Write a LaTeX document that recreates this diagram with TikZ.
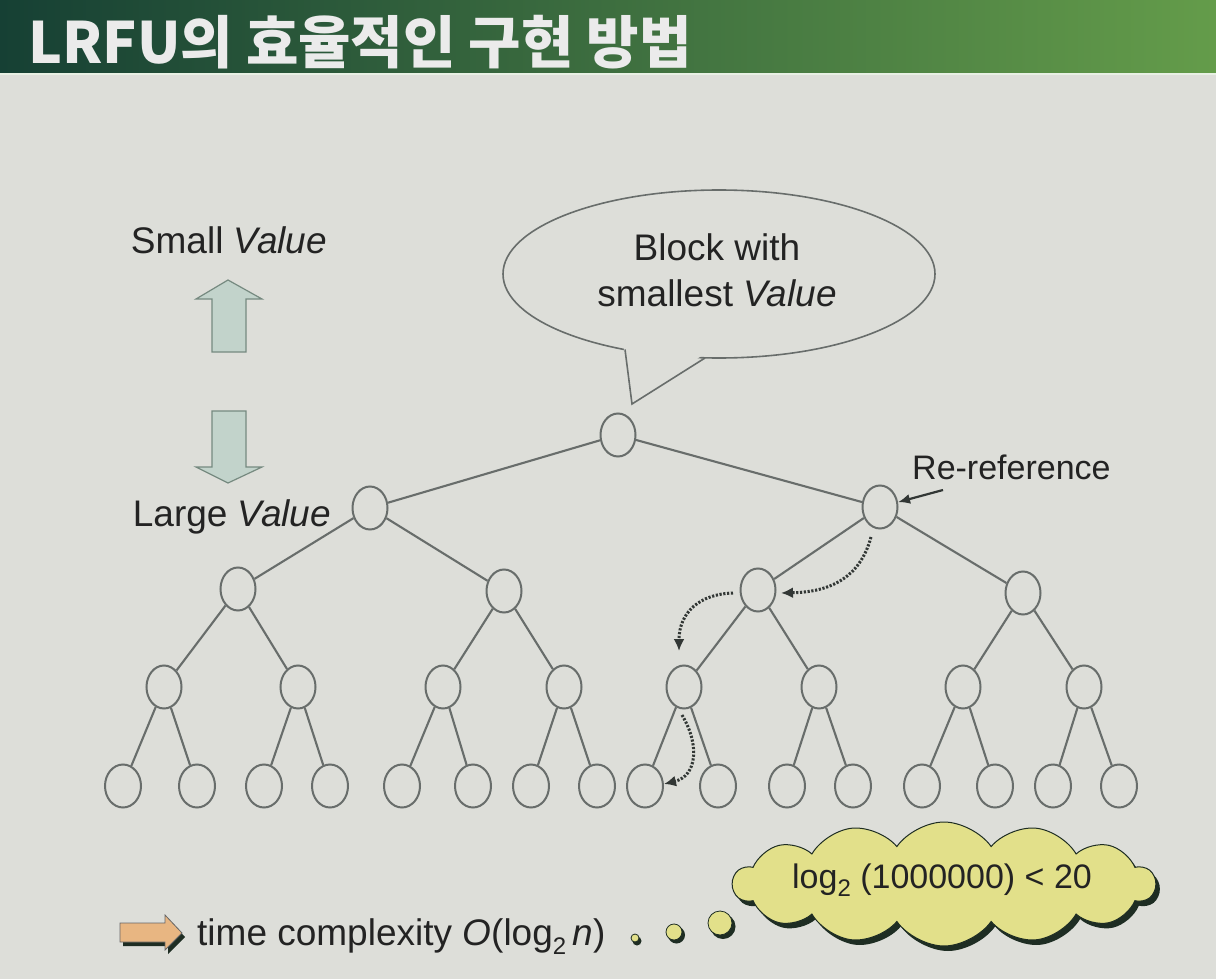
\documentclass[tikz,border=0pt]{standalone}
\usepackage{fontspec}
\setmainfont{Liberation Sans}
\newfontfamily\krfont{Noto Sans CJK KR}
\usetikzlibrary{shapes.geometric,shapes.symbols,arrows.meta}
\definecolor{bg}{RGB}{221,222,217}
\definecolor{titleL}{RGB}{22,64,52}
\definecolor{titleR}{RGB}{100,156,74}
\definecolor{edgec}{RGB}{104,109,107}
\definecolor{txt}{RGB}{35,35,35}
\definecolor{arrfill}{RGB}{194,211,203}
\definecolor{arrdraw}{RGB}{118,138,128}
\definecolor{orangec}{RGB}{232,182,130}
\definecolor{yellowc}{RGB}{226,224,138}
\definecolor{shadowc}{RGB}{30,45,35}
\definecolor{dotc}{RGB}{50,55,53}
\newcommand\mysub[1]{\raisebox{-0.25em}{\fontsize{24}{24}\selectfont #1}}
\begin{document}
\begin{tikzpicture}[x=1pt,y=-1pt,
  tnode/.style={ellipse,draw=edgec,line width=2pt,minimum width=35pt,minimum height=43pt,inner sep=0pt},
  tedge/.style={draw=edgec,line width=2.1pt},
  lbl/.style={text=txt,font=\fontsize{37}{46}\selectfont,inner sep=0pt},
  dotarrow/.style={draw=dotc,line width=3pt,dash pattern=on 2.2pt off 1.6pt,-{Latex[length=12pt,width=11pt]}},
  blockarr/.style={fill=arrfill,draw=arrdraw,line width=1.2pt},
  cloudshape/.style={cloud,cloud puffs=14,cloud puff arc=110,aspect=3.4,minimum width=422pt,minimum height=124pt,inner sep=0pt}
]
\useasboundingbox (0,0) rectangle (1216,979);
\fill[bg] (0,0) rectangle (1216,979);
% title bar
\shade[left color=titleL,right color=titleR] (0,0) rectangle (1216,73);
\fill[white!85!titleR] (0,73) rectangle (1216,75);
\node[anchor=base west,text=white!92!black,inner sep=0pt,font=\krfont\bfseries\fontsize{57}{57}\selectfont] (title) at (28,64) {LRFU의 효율적인 구현 방법};

% left labels and block arrows
\node[lbl] (small) at (229,240) {Small \textit{Value}};
\node[lbl] (large) at (232,517) {Large \textit{Value}};
\draw[blockarr] (228,280) -- (262,299) -- (246,299) -- (246,352) -- (212,352) -- (212,299) -- (196,299) -- cycle;
\draw[blockarr] (212,411) -- (246,411) -- (246,467) -- (262,467) -- (228,483) -- (196,467) -- (212,467) -- cycle;

% speech bubble
\node[ellipse,draw=edgec,line width=1.6pt,minimum width=432pt,minimum height=168pt,inner sep=0pt] (bubble) at (719,274) {};
\fill[bg] (623,343) -- (632,404) -- (707,352) -- cycle;
\draw[edgec,line width=1.6pt] (625,349.5) -- (632,404) -- (705,358);
\node[lbl,align=center] (btext) at (717,270) {Block with\\smallest \textit{Value}};

% tree nodes
\node[tnode] (r) at (618,435) {};
\node[tnode] (a) at (370,508) {};
\node[tnode] (b) at (880,507) {};
\node[tnode] (c1) at (238,589) {};
\node[tnode] (c2) at (504,591) {};
\node[tnode] (c3) at (758,590) {};
\node[tnode] (c4) at (1023,593) {};
\foreach \i/\x in {1/164,2/298,3/443,4/564,5/684,6/819,7/963,8/1084}
  \node[tnode] (d\i) at (\x,687) {};
\foreach \i/\x in {1/123,2/197,3/264,4/330,5/402,6/473,7/531,8/597,9/645,10/718,11/787,12/853,13/922,14/995,15/1053,16/1119}
  \node[tnode,minimum width=36pt,minimum height=43pt] (e\i) at (\x,786) {};

% tree edges
\draw[tedge] (r) -- (a);
\draw[tedge] (r) -- (b);
\draw[tedge] (a) -- (c1);
\draw[tedge] (a) -- (c2);
\draw[tedge] (b) -- (c3);
\draw[tedge] (b) -- (c4);
\foreach \p/\l/\rr in {c1/d1/d2,c2/d3/d4,c3/d5/d6,c4/d7/d8}{
  \draw[tedge] (\p) -- (\l);
  \draw[tedge] (\p) -- (\rr);
}
\foreach \p/\l/\rr in {d1/e1/e2,d2/e3/e4,d3/e5/e6,d4/e7/e8,d5/e9/e10,d6/e11/e12,d7/e13/e14,d8/e15/e16}{
  \draw[tedge] (\p) -- (\l);
  \draw[tedge] (\p) -- (\rr);
}

% re-reference
\node[lbl,anchor=west,font=\fontsize{34}{40}\selectfont] (reref) at (912,467) {Re-reference};
\coordinate (rrstart) at (943,490);
\draw[dotc,line width=2.2pt,-{Latex[length=12pt,width=10pt]}] (rrstart) -- (b);

% dotted path arrows
\coordinate (p1s) at (871,537);
\coordinate (p1e) at (781,593);
\coordinate (p2s) at (733,593);
\coordinate (p2e) at (679,651);
\coordinate (p3s) at (682,715);
\coordinate (p3e) at (664,784);
\draw[dotarrow] (p1s) .. controls (860,578) and (830,592) .. (p1e);
\draw[dotarrow] (p2s) .. controls (700,594) and (679,612) .. (p2e);
\draw[dotarrow] (p3s) .. controls (700,745) and (697,776) .. (p3e);

% bottom line
\fill[shadowc] (123,927) -- (168,927) -- (168,919) -- (185,937) -- (168,954) -- (168,946) -- (123,946) -- cycle;
\draw[fill=orangec,draw=black!60,line width=0.8pt] (120,923) -- (165,923) -- (165,915) -- (182,933) -- (165,950) -- (165,942) -- (120,942) -- cycle;
\node[lbl,anchor=base west,font=\fontsize{37}{40}\selectfont] (tc) at (197,945) {time complexity \textit{O}(log\mysub{2}\,\textit{n})};

% thought bubbles
\fill[shadowc] (637,941) circle (4.5);
\fill[shadowc] (676.5,935) circle (8.5);
\fill[shadowc] (723,926.5) circle (12.5);
\draw[fill=yellowc,draw=shadowc,line width=0.8pt] (635,938) circle (4);
\draw[fill=yellowc,draw=shadowc,line width=0.8pt] (674,932) circle (8);
\draw[fill=yellowc,draw=shadowc,line width=0.8pt] (720,923) circle (12);
\node[cloudshape,fill=shadowc] (cloudsh) at (948,889) {};
\node[cloudshape,fill=yellowc,draw=shadowc,line width=1pt] (cl) at (944,884) {};
\node[lbl,font=\fontsize{34}{40}\selectfont] (cltext) at (942,880) {log\mysub{2} (1000000) < 20};
\end{tikzpicture}
\end{document}
